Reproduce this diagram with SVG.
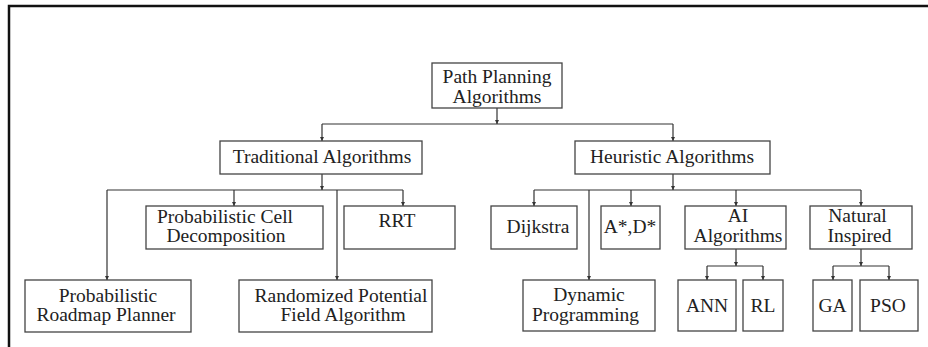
<svg xmlns="http://www.w3.org/2000/svg" width="928" height="347" viewBox="0 0 928 347">
<style>
.box{fill:#fff;stroke:#444;stroke-width:1.3}
.t{font-family:'Liberation Serif','Times New Roman','DejaVu Serif',serif;font-size:19.5px;fill:#222;text-anchor:middle}
.c{fill:none;stroke:#333;stroke-width:1.2}
.frame{fill:none;stroke:#111;stroke-width:2.5}
</style>
<defs>
<marker id="ah" viewBox="0 0 6 6" refX="6" refY="3" markerWidth="4" markerHeight="4" orient="auto" markerUnits="userSpaceOnUse">
<path d="M0,0 L6,3 L0,6 Z" fill="#333"/>
</marker>
</defs>
<rect width="928" height="347" fill="#fff"/>
<path class="frame" d="M9,347 V6 H928"/>
<g id="connectors">
<path class="c" d="M497,108 V124" marker-end="url(#ah)"/>
<path class="c" d="M322,124 H673"/>
<path class="c" d="M322,124 V141" marker-end="url(#ah)"/>
<path class="c" d="M673,124 V141" marker-end="url(#ah)"/>
<path class="c" d="M322,174 V190" marker-end="url(#ah)"/>
<path class="c" d="M107,190 H403"/>
<path class="c" d="M107,190 V280" marker-end="url(#ah)"/>
<path class="c" d="M234,190 V206" marker-end="url(#ah)"/>
<path class="c" d="M337,190 V280" marker-end="url(#ah)"/>
<path class="c" d="M403,190 V206" marker-end="url(#ah)"/>
<path class="c" d="M673,174 V190" marker-end="url(#ah)"/>
<path class="c" d="M534,190 H861"/>
<path class="c" d="M534,190 V206" marker-end="url(#ah)"/>
<path class="c" d="M589,190 V280" marker-end="url(#ah)"/>
<path class="c" d="M631,190 V206" marker-end="url(#ah)"/>
<path class="c" d="M736,190 V206" marker-end="url(#ah)"/>
<path class="c" d="M861,190 V206" marker-end="url(#ah)"/>
<path class="c" d="M736,249 V266" marker-end="url(#ah)"/>
<path class="c" d="M707,266 H763"/>
<path class="c" d="M707,266 V280" marker-end="url(#ah)"/>
<path class="c" d="M763,266 V280" marker-end="url(#ah)"/>
<path class="c" d="M861,249 V266" marker-end="url(#ah)"/>
<path class="c" d="M833,266 H889"/>
<path class="c" d="M833,266 V280" marker-end="url(#ah)"/>
<path class="c" d="M889,266 V280" marker-end="url(#ah)"/>
</g>
<g id="root"><rect class="box" x="432" y="63" width="130" height="45"/><text class="t" x="497" y="83">Path Planning</text><text class="t" x="497" y="102.5">Algorithms</text></g>
<g id="traditional"><rect class="box" x="220" y="141" width="202" height="33"/><text class="t" x="322" y="163">Traditional Algorithms</text></g>
<g id="heuristic"><rect class="box" x="575" y="141" width="195" height="33"/><text class="t" x="672" y="163">Heuristic Algorithms</text></g>
<g id="pcd"><rect class="box" x="146" y="206" width="177" height="43"/><text class="t" x="225" y="222.5">Probabilistic Cell</text><text class="t" x="226" y="242">Decomposition</text></g>
<g id="rrt"><rect class="box" x="344" y="206" width="111" height="43"/><text class="t" x="397" y="226.5">RRT</text></g>
<g id="prm"><rect class="box" x="25" y="280" width="166" height="52"/><text class="t" x="108" y="301.5">Probabilistic</text><text class="t" x="106" y="321">Roadmap Planner</text></g>
<g id="rpf"><rect class="box" x="239" y="280" width="193" height="52"/><text class="t" x="341" y="301.5">Randomized Potential</text><text class="t" x="343" y="321">Field Algorithm</text></g>
<g id="dijkstra"><rect class="box" x="491" y="206" width="86" height="43"/><text class="t" x="538" y="233">Dijkstra</text></g>
<g id="astar"><rect class="box" x="601" y="206" width="59" height="43"/><text class="t" x="630" y="233">A*,D*</text></g>
<g id="ai"><rect class="box" x="685" y="206" width="101" height="43"/><text class="t" x="738" y="222">AI</text><text class="t" x="738" y="241.5">Algorithms</text></g>
<g id="natural"><rect class="box" x="810" y="206" width="102" height="43"/><text class="t" x="857.5" y="222">Natural</text><text class="t" x="859.5" y="241.5">Inspired</text></g>
<g id="dp"><rect class="box" x="523" y="280" width="132" height="51"/><text class="t" x="589" y="301">Dynamic</text><text class="t" x="585.5" y="320.5">Programming</text></g>
<g id="ann"><rect class="box" x="678" y="280" width="58" height="51"/><text class="t" x="707" y="311.5">ANN</text></g>
<g id="rl"><rect class="box" x="743" y="280" width="40" height="51"/><text class="t" x="763" y="311.5">RL</text></g>
<g id="ga"><rect class="box" x="813" y="280" width="39" height="51"/><text class="t" x="832.5" y="311.5">GA</text></g>
<g id="pso"><rect class="box" x="860" y="280" width="58" height="51"/><text class="t" x="888" y="311.5">PSO</text></g>
</svg>
